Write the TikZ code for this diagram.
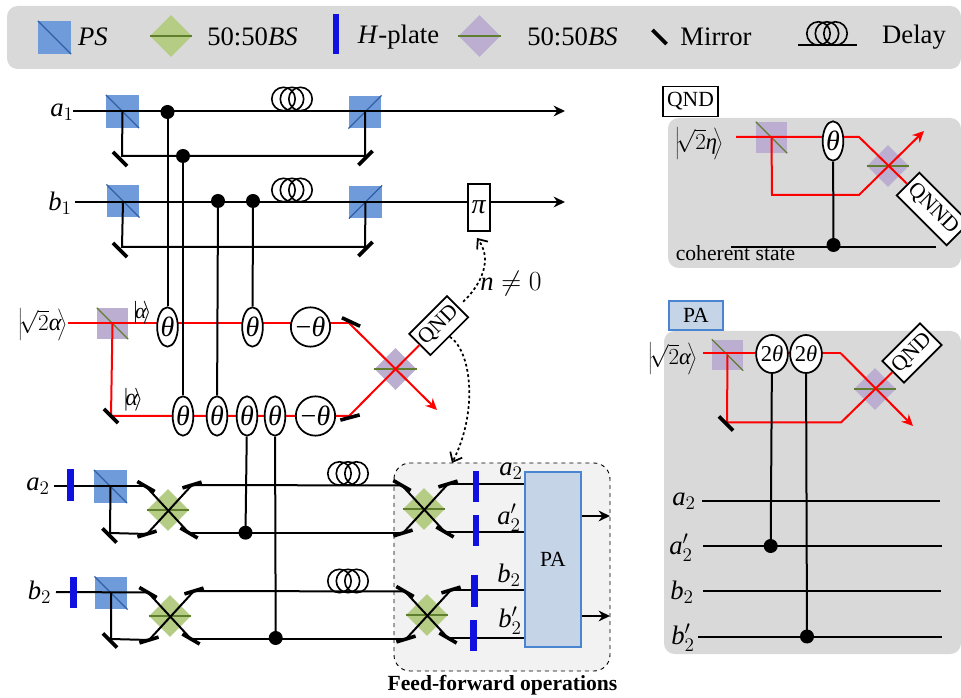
\documentclass[tikz,border=0pt]{standalone}
\usepackage{fontspec}
\setmainfont{Liberation Serif}
\usetikzlibrary{arrows.meta}
\usetikzlibrary{shapes.geometric}
\definecolor{panelgray}{HTML}{D9D9D9}
\definecolor{psblue}{HTML}{6F9BDB}
\definecolor{psline}{HTML}{2F5FA5}
\definecolor{bsgreen}{HTML}{B5CC85}
\definecolor{bspurple}{HTML}{BBAED0}
\definecolor{bsline}{HTML}{5F7F2F}
\definecolor{plateblue}{HTML}{1010E0}
\definecolor{pafill}{HTML}{C5D4E6}
\definecolor{paline}{HTML}{4A86D0}
\newcommand{\thta}{\textit{θ}}
\newcommand{\kets}[1]{$\left|\!#1\!\right\rangle$}
\tikzset{
	wire/.style={line width=1.5pt,black},
	beam/.style={line width=1.5pt,red},
	tip/.style={-{Stealth[length=8.5pt,width=8pt]}},
	bigtxt/.style={font=\fontsize{20}{24}\selectfont,inner sep=0pt},
	midtxt/.style={font=\fontsize{16.2}{20}\selectfont,inner sep=0pt},
	psbox/.style={fill=psblue,minimum size=24.5pt,inner sep=0pt},
	pubox/.style={fill=bspurple,minimum size=23.2pt,inner sep=0pt},
	gdia/.style={diamond,fill=bsgreen,minimum width=31.5pt,minimum height=31.5pt,inner sep=0pt},
	pdia/.style={diamond,fill=bspurple,minimum width=31.5pt,minimum height=31.5pt,inner sep=0pt},
	mirror/.style={fill=black,minimum width=15pt,minimum height=2.7pt,inner sep=0pt},
	plate/.style={fill=plateblue,minimum width=5pt,minimum height=23.5pt,inner sep=0pt},
	dot/.style={circle,fill=black,minimum size=10.5pt,inner sep=0pt},
	phase/.style={ellipse,draw,fill=white,line width=1.3pt,minimum width=15.5pt,minimum height=29.5pt,inner sep=0pt,font=\fontsize{21}{24}\selectfont},
	neg/.style={circle,draw,fill=white,line width=1.3pt,minimum size=29.5pt,inner sep=0pt,font=\fontsize{21}{24}\selectfont},
	dbl/.style={ellipse,draw,fill=white,line width=1.3pt,minimum width=22.5pt,minimum height=28.5pt,inner sep=0pt,font=\fontsize{17}{20}\selectfont},
	qbox/.style={draw,fill=white,line width=1.3pt,midtxt},
	pabox/.style={draw=paline,fill=pafill,line width=1.3pt,midtxt},
	coil/.pic={\foreach \dx in {-8.5,0,8.5} \draw[line width=1.2pt] (\dx,0) circle (11.7);},
	hint/.style={line width=1.3pt,dash pattern=on 2pt off 2pt},
}
\begin{document}
\begin{tikzpicture}[x=0.75pt,y=-0.75pt]
	\useasboundingbox (0,0) rectangle (961,698);

	% panels
	\fill[panelgray,rounded corners=8pt] (7,6) rectangle (961,69);
	\fill[panelgray,rounded corners=8pt] (668,118) rectangle (961,268);
	\fill[panelgray,rounded corners=8pt] (664,331) rectangle (961,654);
	\filldraw[fill=black!5,draw=black,line width=0.7pt,dashed,rounded corners=12pt] (394,463) rectangle (610,671);

	% legend
	\node[psbox] (legPS) at (54.5,37.5) {};
	\node[gdia] (legBSg) at (171,36) {};
	\node[plate,minimum height=30pt] (legPlate) at (336,34) {};
	\node[pdia] (legBSp) at (479.5,36) {};
	\node[mirror,rotate=-45] (legMirror) at (659.5,37) {};
	\node[bigtxt] (legTxtPS) at (93,37) {\textit{PS}};
	\node[bigtxt] (legTxtBSg) at (252.5,37) {50:50\textit{BS}};
	\node[bigtxt] (legTxtPlate) at (398.5,37) {\textit{H}-plate};
	\node[bigtxt] (legTxtBSp) at (572.5,37) {50:50\textit{BS}};
	\node[bigtxt] (legTxtMirror) at (716,37) {Mirror};
	\node[bigtxt] (legTxtDelay) at (914,37) {Delay};
	\pic (legCoil) at (827,33.5) {coil};
	\coordinate (legDelayA) at (798,45);
	\coordinate (legDelayB) at (857,45);
	\draw[wire,line width=1.2pt] (legDelayA) -- (legDelayB);

	% splitters
	\foreach \nm/\x/\y in {psA/122.5/111.5,psB/123/201,psE/110.5/486.5,psF/111/593}
		\node[psbox] (\nm) at (\x,\y) {};
	\foreach \nm/\x/\y in {psC/365/112,psD/365.5/202}
		\node[psbox] (\nm) at (\x,\y) {};
	\foreach \nm in {psA,psB,psE,psF,legPS}
		\draw[psline,line width=0.9pt] (\nm.north west) -- (\nm.south east);
	\foreach \nm in {psC,psD}
		\draw[psline,line width=0.9pt] (\nm.south west) -- (\nm.north east);
	\foreach \nm/\x/\y in {puA/112.5/323.5,puB/771.5/137.5,puC/727.5/355}
		\node[pubox] (\nm) at (\x,\y) {};
	\foreach \nm in {puA,puB,puC}
		\draw[bsline,line width=0.9pt] (\nm.north west) -- (\nm.south east);
	\foreach \nm/\x/\y in {bsP/395.5/369,bsQ/888/166,bsR/875/389}
		\node[pdia] (\nm) at (\x,\y) {};
	\foreach \nm/\x/\y in {bsE/168/510,bsF/170/616,bsG/424/509,bsH/427/615}
		\node[gdia] (\nm) at (\x,\y) {};
	\foreach \nm in {bsP,bsQ,bsR,bsE,bsF,bsG,bsH,legBSg,legBSp}
		\draw[bsline,line width=1.1pt] (\nm.west) -- (\nm.east);

	% mirrors around the green splitters
	\foreach \nm/\x/\y in {E/168/510,F/170/616,G/424/509,H/427/615}{
		\node[mirror,rotate=-30] (tl\nm) at (\x-22,\y-23.5) {};
		\node[mirror,rotate=17] (tr\nm) at (\x+24,\y-25) {};
		\node[mirror,rotate=17] (bl\nm) at (\x-21,\y+24) {};
		\node[mirror,rotate=-30] (br\nm) at (\x+21,\y+23) {};
		\draw[wire] (tl\nm.center) -- (br\nm.center);
		\draw[wire] (bl\nm.center) -- (tr\nm.center);
	}

	% mirrors
	\node[mirror,rotate=-45] (mA) at (120,159) {};
	\node[mirror,rotate=45] (mB) at (365.5,158) {};
	\node[mirror,rotate=-45] (mC) at (120,250) {};
	\node[mirror,rotate=45] (mD) at (365.5,249) {};
	\node[mirror,rotate=-45] (mE) at (109.5,535.5) {};
	\node[mirror,rotate=-45] (mF) at (110,640.5) {};

	% signal lines
	\coordinate (aOneIn) at (73,111);
	\coordinate (aOneOut) at (565,111);
	\coordinate (bOneIn) at (75,202);
	\coordinate (bOneOut) at (565,202);
	\coordinate (aOneLow) at (122,156);
	\coordinate (aOneLowR) at (365,156);
	\coordinate (bOneLow) at (122,247);
	\coordinate (bOneLowR) at (365,247);
	\draw[wire,tip] (aOneIn) -- (aOneOut);
	\draw[wire,tip] (bOneIn) -- (bOneOut);
	\draw[wire] (psA.center) -- (aOneLow) -- (aOneLowR) -- (psC.center);
	\draw[wire] (psB.center) -- (bOneLow) -- (bOneLowR) -- (psD.center);
	\coordinate (aTwoIn) at (54,486.5);
	\coordinate (bTwoIn) at (56,592);
	\coordinate (aTwoLow) at (110,533);
	\coordinate (bTwoLow) at (111,639);
	\draw[wire] (aTwoIn) -- (tlE.center);
	\draw[wire] (bTwoIn) -- (tlF.center);
	\draw[wire] (psE.center) -- (aTwoLow) -- (blE.center);
	\draw[wire] (psF.center) -- (bTwoLow) -- (blF.center);
	\draw[wire] (trE.center) -- (tlG.center);
	\draw[wire] (brE.center) -- (blG.center);
	\draw[wire] (trF.center) -- (tlH.center);
	\draw[wire] (brF.center) -- (blH.center);

	% red beams
	\coordinate (alphaIn) at (68,323);
	\coordinate (alphaTop) at (349,323);
	\coordinate (alphaCorner) at (111,416);
	\coordinate (alphaLow) at (349,416);
	\coordinate (alphaOut) at (437,410);
	\coordinate (etaIn) at (736,137);
	\coordinate (etaTop) at (859,137);
	\coordinate (etaCorner) at (772,195);
	\coordinate (etaLow) at (859,195);
	\coordinate (etaOut) at (924,131);
	\coordinate (paIn) at (703,353.5);
	\coordinate (paTop) at (841,353.5);
	\coordinate (paCorner) at (727,422.5);
	\coordinate (paLow) at (841,422.5);
	\coordinate (paOut) at (913,426);
	\node[qbox,rotate=45,minimum width=40pt,minimum height=22.5pt] (qndA) at (438.7,325.6) {QND};
	\node[qbox,rotate=-45,minimum width=53pt,minimum height=24pt] (qnnd) at (933,209) {QNND};
	\node[qbox,rotate=45,minimum width=40pt,minimum height=23pt] (qndB) at (912,353) {QND};
	\draw[beam] (alphaIn) -- (alphaTop);
	\draw[beam,tip] (alphaTop) -- (alphaOut);
	\draw[beam] (puA.center) -- (alphaCorner) -- (alphaLow) -- (qndA);
	\draw[beam] (etaIn) -- (etaTop) -- (qnnd);
	\draw[beam,tip] (puB.center) -- (etaCorner) -- (etaLow) -- (etaOut);
	\draw[beam] (paIn) -- (paTop);
	\draw[beam,tip] (paTop) -- (paOut);
	\draw[beam] (puC.center) -- (paCorner) -- (paLow) -- (qndB);
	\node[mirror,rotate=-45] (mG) at (111,416) {};
	\node[mirror,rotate=-25] (mH) at (351,322) {};
	\node[mirror,rotate=15] (mI) at (350,417.5) {};
	\node[mirror,rotate=-45] (mJ) at (726,423.5) {};

	% phases
	\node[phase] (thA) at (167.5,327) {\thta};
	\node[phase] (thB) at (252.5,327) {\thta};
	\node[neg] (negA) at (310.5,327) {−\thta};
	\node[phase] (thC) at (183,416) {\thta};
	\node[phase] (thD) at (217,416) {\thta};
	\node[phase] (thE) at (247,416) {\thta};
	\node[phase] (thF) at (275,416) {\thta};
	\node[neg] (negB) at (315.5,416) {−\thta};
	\node[phase] (thQ) at (833,141) {\thta};
	\node[dbl] (thR) at (772,354) {2\thta};
	\node[dbl] (thS) at (806,354) {2\thta};

	% delay coils
	\pic (coilA) at (292,99) {coil};
	\pic (coilB) at (292,190) {coil};
	\pic (coilC) at (348,473.5) {coil};
	\pic (coilD) at (348,581) {coil};

	% PA block and plates
	\node[pabox,minimum width=42pt,minimum height=131pt] (paBlock) at (553,559.5) {PA};
	\draw[wire] (trG.center) -- (trG.center -| paBlock.west);
	\draw[wire] (brG.center) -- (brG.center -| paBlock.west);
	\draw[wire] (trH.center) -- (trH.center -| paBlock.west);
	\draw[wire] (brH.center) -- (brH.center -| paBlock.west);
	\foreach \nm/\x/\y in {plA/70.5/485,plB/73.5/592.5,plC/476/486.5,plD/476/530.5,plE/474.5/591,plF/473.5/635.5}
		\node[plate] (\nm) at (\x,\y) {};
	\coordinate (ffOutA) at (610,516);
	\coordinate (ffOutB) at (610,616);
	\draw[wire,tip] (ffOutA -| paBlock.east) -- (ffOutA);
	\draw[wire,tip] (ffOutB -| paBlock.east) -- (ffOutB);

	% pi box
	\node[qbox,font=\fontsize{21}{24}\selectfont,minimum width=17pt,minimum height=35pt] (piBox) at (479,207.5) {\textit{π}};

	% control dots
	\node[dot] (dotA) at (167.5,112) {};
	\node[dot] (dotB) at (183,156) {};
	\node[dot] (dotC) at (218,201) {};
	\node[dot] (dotD) at (253,201) {};
	\node[dot] (dotE) at (245.5,532.7) {};
	\node[dot] (dotF) at (275.7,638) {};
	\node[dot] (dotQ) at (833.5,245) {};
	\node[dot] (dotR) at (770.7,546) {};
	\node[dot] (dotS) at (807,636.5) {};
	\draw[wire] (dotA.center) -- (thA);
	\draw[wire] (dotB.center) -- (thC);
	\draw[wire] (dotC.center) -- (thD);
	\draw[wire] (dotD.center) -- (thB);
	\draw[wire] (thE) -- (dotE.center);
	\draw[wire] (thF) -- (dotF.center);
	\draw[wire] (thQ) -- (dotQ.center);
	\draw[wire] (thR) -- (dotR.center);
	\draw[wire] (thS) -- (dotS.center);

	% right hand lines
	\coordinate (cohA) at (731,246.7);
	\coordinate (cohB) at (936,246.7);
	\draw[wire] (cohA) -- (cohB);
	\coordinate (rowAa) at (702,500.7);
	\coordinate (rowAb) at (940,500.7);
	\coordinate (rowBa) at (703,546);
	\coordinate (rowBb) at (941.7,546);
	\coordinate (rowCa) at (703,590.7);
	\coordinate (rowCb) at (941,590.7);
	\coordinate (rowDa) at (698,636.5);
	\coordinate (rowDb) at (942,636.5);
	\draw[wire] (rowAa) -- (rowAb);
	\draw[wire] (rowBa) -- (rowBb);
	\draw[wire] (rowCa) -- (rowCb);
	\draw[wire] (rowDa) -- (rowDb);

	% dotted links
	\coordinate (ffTop) at (452,463);
	\coordinate (piTip) at (477,238);
	\draw[hint,shorten <=5pt,-{Straight Barb[length=6pt,width=10pt]}] (qndA.east) .. controls (474,292) and (496,264) .. (piTip);
	\draw[hint,-{Straight Barb[length=6pt,width=10pt]}] (qndA.south) .. controls (472,352) and (478,412) .. (ffTop);

	% labels
	\node[bigtxt] (labA) at (62,112) {$\mathit{a}_{1}$};
	\node[bigtxt] (labB) at (60,203) {$\mathit{b}_{1}$};
	\node[bigtxt] (labC) at (38,486) {$\mathit{a}_{2}$};
	\node[bigtxt] (labD) at (39.5,592) {$\mathit{b}_{2}$};
	\node[midtxt,font=\fontsize{18}{20}\selectfont] (labE) at (43,325) {\kets{\sqrt{2}\textit{α}}};
	\node[midtxt] (labF) at (142,313) {\kets{\textit{α}}};
	\node[midtxt,font=\fontsize{18}{20}\selectfont] (labG) at (133,400) {\kets{\textit{α}}};
	\node[bigtxt] (labH) at (511,284) {$\mathit{n}\neq 0$};
	\node[bigtxt] (labI) at (511,471) {$\mathit{a}_{2}$};
	\node[bigtxt] (labJ) at (509,518) {$\mathit{a}'_{2}$};
	\node[bigtxt] (labK) at (509,575) {$\mathit{b}_{2}$};
	\node[bigtxt] (labL) at (510,621) {$\mathit{b}'_{2}$};
	\node[midtxt,font=\fontsize{16.2}{20}\bfseries\selectfont] (labM) at (502.5,685) {Feed-forward operations};
	\node[qbox] (boxQ) at (690.5,101.5) [minimum width=41pt,minimum height=22.5pt] {QND};
	\node[pabox] (boxP) at (696,315.5) [minimum width=40pt,minimum height=21.5pt] {PA};
	\node[midtxt,font=\fontsize{17}{20}\selectfont] (labN) at (699.5,144) {\kets{\sqrt{2}\textit{η}}};
	\node[midtxt] (labO) at (735.5,253.5) {coherent state};
	\node[midtxt,font=\fontsize{17}{20}\selectfont] (labP) at (673,359) {\kets{\sqrt{2}\textit{α}}};
	\node[bigtxt] (labQ) at (684,501) {$\mathit{a}_{2}$};
	\node[bigtxt] (labR) at (681,548) {$\mathit{a}'_{2}$};
	\node[bigtxt] (labS) at (682,592) {$\mathit{b}_{2}$};
	\node[bigtxt] (labT) at (683,638) {$\mathit{b}'_{2}$};
\end{tikzpicture}
\end{document}
